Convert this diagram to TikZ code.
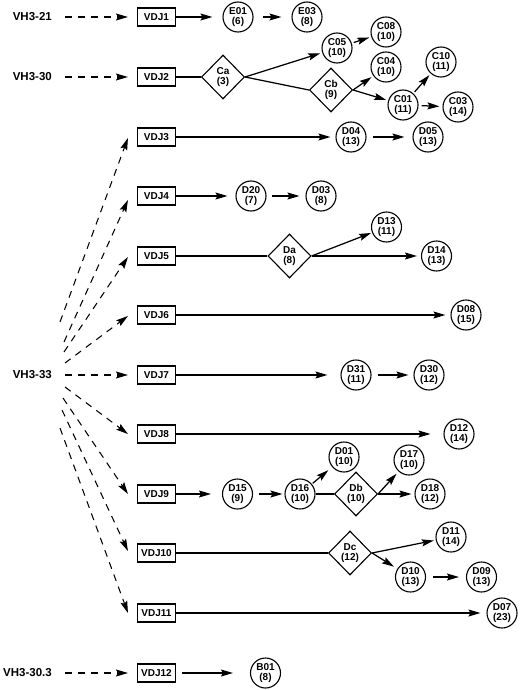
\documentclass[tikz,border=0pt]{standalone}
\usepackage{fontspec}
\setmainfont{Liberation Sans}
\usetikzlibrary{shapes.geometric,arrows.meta}
\begin{document}
\begin{tikzpicture}[x=1pt,y=-1pt,
  vbox/.style={draw, rectangle, minimum width=38pt, minimum height=18pt, inner sep=0pt, line width=1.1pt, font=\fontsize{10}{12}\selectfont\bfseries},
  circ/.style={draw, circle, minimum size=30pt, inner sep=0pt, line width=1.1pt, align=center, font=\fontsize{10}{10.8}\selectfont\bfseries},
  dia/.style={draw, diamond, aspect=1, minimum width=43pt, minimum height=44pt, inner sep=0pt, line width=1.1pt, align=center, font=\fontsize{10}{10.8}\selectfont\bfseries},
  vlab/.style={anchor=east, inner sep=0pt, font=\fontsize{11.5}{13}\selectfont\bfseries},
  arr/.style={-{Stealth[length=12pt,width=7pt,inset=2pt]}, line width=1.25pt},
  darr/.style={-{Stealth[length=12pt,width=7pt,inset=2pt]}, line width=1.05pt, dash pattern=on 7pt off 6pt},
  ln/.style={line width=1.25pt}
]
\useasboundingbox (0,0) rectangle (520,690);

% germline labels
\node[vlab] (h1) at (52,17) {VH3-21};
\node[vlab] (h2) at (52,77) {VH3-30};
\node[vlab] (h3) at (52,375) {VH3-33};
\node[vlab] (h4) at (52,673) {VH3-30.3};

% VDJ boxes
\node[vbox] (v1) at (156.5,17) {VDJ1};
\node[vbox] (v2) at (156.5,77) {VDJ2};
\node[vbox] (v3) at (156.5,137) {VDJ3};
\node[vbox] (v4) at (156.5,196) {VDJ4};
\node[vbox] (v5) at (156.5,256) {VDJ5};
\node[vbox] (v6) at (156.5,315) {VDJ6};
\node[vbox] (v7) at (156.5,375) {VDJ7};
\node[vbox] (v8) at (156.5,434) {VDJ8};
\node[vbox] (v9) at (156.5,494) {VDJ9};
\node[vbox] (v10) at (156.5,553) {VDJ10};
\node[vbox] (v11) at (156.5,613) {VDJ11};
\node[vbox] (v12) at (156.5,673) {VDJ12};

% row 1
\node[circ] (e01) at (238,17) {E01\\(6)};
\node[circ] (e03) at (307,17) {E03\\(8)};
% row 2
\node[dia] (ca) at (223,77) {Ca\\(3)};
\node[circ] (c05) at (337,48) {C05\\(10)};
\node[circ] (c08) at (386,32) {C08\\(10)};
\node[dia] (cb) at (331,90) {Cb\\(9)};
\node[circ] (c04) at (386,67) {C04\\(10)};
\node[circ] (c01) at (403,105) {C01\\(11)};
\node[circ] (c10) at (441,62) {C10\\(11)};
\node[circ] (c03) at (458,107) {C03\\(14)};
% row 3
\node[circ] (d04) at (351,137) {D04\\(13)};
\node[circ] (d05) at (428,137) {D05\\(13)};
% row 4
\node[circ] (d20) at (251,196) {D20\\(7)};
\node[circ] (d03) at (321,196) {D03\\(8)};
% row 5
\node[dia] (da) at (289.5,256) {Da\\(8)};
\node[circ] (d13) at (386.5,227) {D13\\(11)};
\node[circ] (d14) at (436.5,256) {D14\\(13)};
% row 6
\node[circ] (d08) at (466,315) {D08\\(15)};
% row 7
\node[circ] (d31) at (356,375) {D31\\(11)};
\node[circ] (d30) at (429,375) {D30\\(12)};
% row 8
\node[circ] (d12) at (459,434) {D12\\(14)};
% row 9
\node[circ] (d15) at (237.5,494) {D15\\(9)};
\node[circ] (d16) at (300,494) {D16\\(10)};
\node[circ] (d01) at (344,457) {D01\\(10)};
\node[dia] (db) at (356,494) {Db\\(10)};
\node[circ] (d17) at (409,460) {D17\\(10)};
\node[circ] (d18) at (430,494) {D18\\(12)};
% row 10
\node[dia] (dc) at (350,553) {Dc\\(12)};
\node[circ] (d11) at (451,537) {D11\\(14)};
\node[circ] (d10) at (410.5,577) {D10\\(13)};
\node[circ] (d09) at (481.5,577) {D09\\(13)};
% row 11
\node[circ] (d07) at (502,613) {D07\\(23)};
% row 12
\node[circ] (b01) at (265.5,673) {B01\\(8)};

% fan start points
\coordinate (f3) at (60,322);
\coordinate (f4) at (64,342);
\coordinate (f5) at (64,352);
\coordinate (f6) at (65,363);
\coordinate (f8) at (65,387);
\coordinate (f9) at (63,398);
\coordinate (f10) at (62,410);
\coordinate (f11) at (60,428);

% dashed germline arrows
\draw[darr, shorten <=13pt] (h1.east) -- ([xshift=-9pt]v1.west);
\draw[darr, shorten <=13pt] (h2.east) -- ([xshift=-9pt]v2.west);
\draw[darr, shorten <=13pt] (h3.east) -- ([xshift=-9pt]v7.west);
\draw[darr, shorten <=13pt] (h4.east) -- ([xshift=-9pt]v12.west);
\draw[darr] (f3) -- ([xshift=-9pt,yshift=-1pt]v3.west);
\draw[darr] (f4) -- ([xshift=-9pt,yshift=-4pt]v4.west);
\draw[darr] (f5) -- ([xshift=-9pt,yshift=-1pt]v5.west);
\draw[darr] (f6) -- ([xshift=-9pt,yshift=-1pt]v6.west);
\draw[darr] (f8) -- ([xshift=-9pt]v8.west);
\draw[darr] (f9) -- ([xshift=-9pt]v9.west);
\draw[darr] (f10) -- ([xshift=-9pt,yshift=2pt]v10.west);
\draw[darr] (f11) -- ([xshift=-9pt]v11.west);

% row 1
\draw[arr, shorten >=10pt] (v1) -- (e01);
\draw[arr, shorten <=9pt, shorten >=10pt] (e01) -- (e03);
% row 2
\draw[ln] (v2) -- (ca);
\draw[arr, shorten >=2pt] (ca.east) -- (c05);
\draw[ln] (ca.east) -- (cb.west);
\draw[arr, shorten >=2pt] (cb.east) -- (c04);
\draw[arr, shorten >=2pt] (cb.east) -- (c01);
\draw[arr, shorten <=2pt, shorten >=2pt] (c05) -- (c08);
\draw[arr, shorten <=2pt, shorten >=2pt] (c01) -- (c10);
\draw[arr, shorten <=3pt, shorten >=3pt] (c01) -- (c03);
% row 3
\draw[arr, shorten >=5pt] (v3) -- (d04);
\draw[arr, shorten <=6pt, shorten >=8pt] (d04) -- (d05);
% row 4
\draw[arr, shorten >=8pt] (v4) -- (d20);
\draw[arr, shorten <=5pt, shorten >=6pt] (d20) -- (d03);
% row 5
\draw[ln] (v5) -- (da);
\draw[arr, shorten >=1pt] (da.east) -- (d13);
\draw[arr, shorten >=4pt] (da) -- (d14);
% row 6
\draw[arr, shorten >=5pt] (v6) -- (d08);
% row 7
\draw[arr, shorten >=13pt] (v7) -- (d31);
\draw[arr, shorten <=6pt, shorten >=5pt] (d31) -- (d30);
% row 8
\draw[arr, shorten >=13pt] (v8) -- (d12);
% row 9
\draw[arr, shorten >=11pt] (v9) -- (d15);
\draw[arr, shorten <=6pt, shorten >=2pt] (d15) -- (d16);
\draw[ln] (d16) -- (db);
\draw[arr, shorten <=1pt, shorten >=5pt] (d16) -- (d01);
\draw[arr, shorten >=3pt] (db.east) -- (d17);
\draw[arr, shorten >=3pt] (db) -- (d18);
% row 10
\draw[ln] (v10) -- (dc);
\draw[arr, shorten >=2pt] (dc.east) -- (d11);
\draw[arr, shorten >=4pt] (dc.east) -- (d10);
\draw[arr, shorten <=7pt, shorten >=7pt] (d10) -- (d09);
% row 11
\draw[arr, shorten >=6pt] (v11) -- (d07);
% row 12
\draw[arr, shorten <=6pt, shorten >=17pt] (v12) -- (b01);
\end{tikzpicture}
\end{document}
